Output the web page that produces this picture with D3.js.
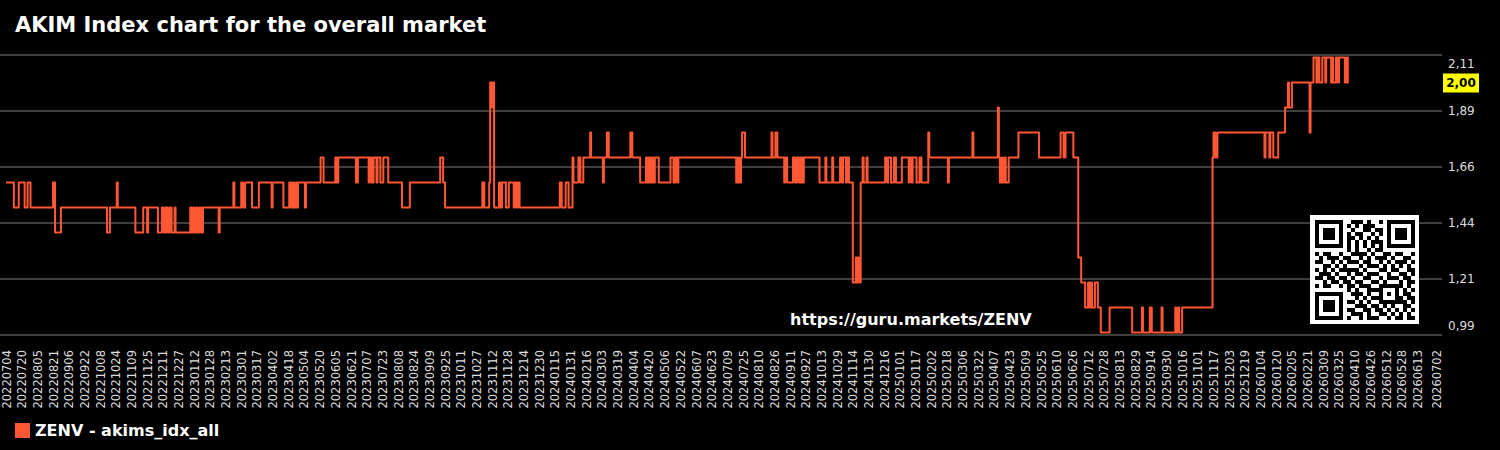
<!DOCTYPE html>
<html lang="en">
<head>
  <meta charset="utf-8">
  <title>AKIM Index chart for the overall market</title>
  <script src="https://cdn.jsdelivr.net/npm/d3@7"></script>
  <style>
    body { margin: 0; background: #000; }
    svg { display: block; font-family: "DejaVu Sans", sans-serif; }
  </style>
</head>
<body>
<div id="chart"></div>
<script>
  // step series: each value holds until the next change date
  var changeDates = [
    "20220704","20220712","20220717","20220723","20220726","20220729","20220821","20220823","20220829","20221015",
    "20221018","20221025","20221026","20221113","20221121","20221125","20221126","20221206","20221210","20221212",
    "20221214","20221216","20221218","20221220","20221223","20221224","20230108","20230109","20230111","20230112",
    "20230114","20230115","20230117","20230119","20230121","20230206","20230207","20230221","20230222","20230301",
    "20230303","20230305","20230312","20230319","20230401","20230402","20230413","20230419","20230421","20230423",
    "20230424","20230426","20230427","20230428","20230505","20230506","20230521","20230524","20230605","20230606",
    "20230608","20230626","20230628","20230709","20230710","20230712","20230714","20230717","20230718","20230721",
    "20230724","20230729","20230812","20230820","20230920","20230923","20230925","20231102","20231104","20231109",
    "20231110","20231112","20231113","20231114","20231119","20231120","20231122","20231126","20231129","20231204",
    "20231205","20231207","20231208","20231210","20240120","20240122","20240126","20240129","20240202","20240203",
    "20240208","20240210","20240213","20240220","20240221","20240304","20240305","20240308","20240310","20240401",
    "20240403","20240411","20240417","20240418","20240420","20240421","20240423","20240424","20240426","20240430",
    "20240512","20240515","20240517","20240519","20240520","20240718","20240720","20240721","20240723","20240724",
    "20240727","20240823","20240824","20240827","20240829","20240905","20240906","20240908","20240914","20240916",
    "20240918","20240920","20240922","20240923","20240925","20241011","20241017","20241018","20241024","20241025",
    "20241101","20241103","20241104","20241107","20241108","20241110","20241114","20241117","20241118","20241119",
    "20241121","20241122","20241124","20241125","20241128","20241129","20241217","20241219","20241220","20241223",
    "20241226","20241228","20250103","20250110","20250111","20250113","20250114","20250118","20250121","20250123",
    "20250130","20250131","20250219","20250220","20250316","20250317","20250411","20250412","20250413","20250415",
    "20250416","20250418","20250419","20250422","20250502","20250523","20250614","20250617","20250619","20250627",
    "20250702","20250705","20250709","20250712","20250713","20250715","20250716","20250719","20250722","20250725",
    "20250803","20250826","20250905","20250906","20250913","20250915","20250925","20250926","20251009","20251010",
    "20251012","20251013","20251016","20251116","20251117","20251119","20251121","20260108","20260109","20260113",
    "20260114","20260117","20260122","20260129","20260201","20260202","20260205","20260223","20260224","20260227",
    "20260302","20260303","20260305","20260308","20260311","20260312","20260317","20260318","20260319","20260322",
    "20260324","20260325","20260331","20260402","20260403","20260404"
  ];
  var changeValues = [
    1.6,1.5,1.6,1.5,1.6,1.5,1.6,1.4,1.5,1.4,
    1.5,1.6,1.5,1.4,1.5,1.4,1.5,1.4,1.5,1.4,
    1.5,1.4,1.5,1.4,1.5,1.4,1.5,1.4,1.5,1.4,
    1.5,1.4,1.5,1.4,1.5,1.4,1.5,1.6,1.5,1.6,
    1.5,1.6,1.5,1.6,1.5,1.6,1.5,1.6,1.5,1.6,
    1.5,1.6,1.5,1.6,1.5,1.6,1.7,1.6,1.7,1.6,
    1.7,1.6,1.7,1.6,1.7,1.6,1.7,1.6,1.7,1.6,
    1.7,1.6,1.5,1.6,1.7,1.6,1.5,1.6,1.5,1.6,
    2.0,1.9,2.0,1.5,1.6,1.5,1.6,1.5,1.6,1.5,
    1.6,1.5,1.6,1.5,1.6,1.5,1.6,1.5,1.7,1.6,
    1.7,1.6,1.7,1.8,1.7,1.6,1.7,1.8,1.7,1.8,
    1.7,1.6,1.7,1.6,1.7,1.6,1.7,1.6,1.7,1.6,
    1.7,1.6,1.7,1.6,1.7,1.6,1.7,1.6,1.7,1.8,
    1.7,1.8,1.7,1.8,1.7,1.6,1.7,1.6,1.7,1.6,
    1.7,1.6,1.7,1.6,1.7,1.6,1.7,1.6,1.7,1.6,
    1.7,1.6,1.7,1.6,1.7,1.6,1.2,1.3,1.2,1.3,
    1.2,1.6,1.7,1.6,1.7,1.6,1.7,1.6,1.7,1.6,
    1.7,1.6,1.7,1.6,1.7,1.6,1.7,1.6,1.7,1.6,
    1.8,1.7,1.6,1.7,1.8,1.7,1.9,1.7,1.6,1.7,
    1.6,1.7,1.6,1.7,1.8,1.7,1.8,1.7,1.8,1.7,
    1.3,1.2,1.1,1.2,1.1,1.2,1.1,1.2,1.1,1.0,
    1.1,1.0,1.1,1.0,1.1,1.0,1.1,1.0,1.1,1.0,
    1.1,1.0,1.1,1.7,1.8,1.7,1.8,1.7,1.8,1.7,
    1.8,1.7,1.8,1.9,2.0,1.9,2.0,1.8,2.0,2.1,
    2.0,2.1,2.0,2.1,2.0,2.1,2.0,2.1,2.0,2.1,
    2.0,2.1,2.0,2.1,2.0,2.0
  ];
  var seriesName = "ZENV - akims_idx_all";
  var lastValue = 2.00;
  var yTicks = [0.99, 1.214, 1.438, 1.662, 1.886, 2.11];
  var xFirstTick = "20220704", xLastTick = "20260702", xTickStepDays = 16;

  // decorative QR code bitmap (function patterns are drawn over it)
  var qrRows = [
    "10110 01101 11010 01011 10010", "01101 10010 10111 00101 01101", "11010 01101 00110 11010 10011",
    "00111 01010 11001 01101 11010", "10100 11011 01010 10110 00101", "01011 00110 10101 11001 01110",
    "11100 10101 01011 00110 10100", "00101 11010 10010 11011 01011", "10110 01001 11101 00110 11001",
    "01011 10110 01010 11101 00110", "11001 01011 10110 01010 11101", "00110 11100 01011 10101 01010",
    "10101 00111 10100 01101 10011", "01110 10010 11011 10010 01101", "11011 01101 00110 01011 10110",
    "00101 10110 11001 10100 01011", "10110 01011 01110 01011 11010", "01001 11010 10011 10110 00101",
    "11010 00101 11010 01101 10110", "00111 01100 10101 11010 01011", "10100 11011 01010 00110 11101",
    "01011 10100 11101 10101 00110", "11101 01011 00110 11010 10101", "00110 10101 11010 01101 01010",
    "10011 01110 01011 10010 11011"
  ];

  var W = 1500, H = 450;
  var lineColor = "#ff5733";
  var parse = d3.utcParse("%Y%m%d");
  var fmtDate = d3.utcFormat("%Y%m%d");
  var fmtNum = function (v) { return v.toFixed(2).replace(".", ","); };

  var data = changeDates.map(function (d, i) { return { date: parse(d), value: changeValues[i] }; });

  var svg = d3.select("#chart").append("svg").attr("width", W).attr("height", H);
  svg.append("rect").attr("width", W).attr("height", H).attr("fill", "#000");

  var x = d3.scaleUtc().domain([parse(xFirstTick), parse(xLastTick)]).range([6, 1436]);
  var y = d3.scaleLinear().domain([0.99, 2.11]).range([335, 55]);

  // title
  svg.append("text").attr("x", 15).attr("y", 32)
    .attr("fill", "#fff").attr("font-size", 21).attr("font-weight", "bold")
    .text("AKIM Index chart for the overall market");

  // horizontal grid + right labels
  var grid = svg.append("g");
  grid.selectAll("line").data(yTicks).enter().append("line")
    .attr("x1", 0).attr("x2", 1442)
    .attr("y1", function (d) { return y(d); }).attr("y2", function (d) { return y(d); })
    .attr("stroke", "#555").attr("stroke-width", 1.5);
  grid.selectAll("text").data(yTicks).enter().append("text")
    .attr("x", 1448)
    .attr("y", function (d, i) {
      if (i === yTicks.length - 1) return y(d) + 9;
      if (i === 0) return y(d) - 9;
      return y(d);
    })
    .attr("dy", "0.35em")
    .attr("fill", "#ddd").attr("font-size", 12)
    .text(function (d) { return fmtNum(d); });

  // x axis with rotated date labels (every 16 days, plus the range end)
  var endDate = parse(xLastTick);
  var xTicks = d3.utcDay.range(parse(xFirstTick), endDate, xTickStepDays)
    .filter(function (d) { return d3.utcDay.count(d, endDate) >= xTickStepDays / 2; });
  xTicks.push(endDate);
  var xAxis = svg.append("g").attr("transform", "translate(0,335)")
    .call(d3.axisBottom(x).tickValues(xTicks).tickFormat(fmtDate).tickSize(0));
  xAxis.select(".domain").remove();
  xAxis.selectAll("text")
    .attr("transform", "rotate(-90)")
    .attr("x", -15).attr("y", 0).attr("dy", "0.35em")
    .attr("text-anchor", "end")
    .attr("fill", "#ddd").attr("font-size", 11.5)
    .attr("font-family", "DejaVu Sans, sans-serif");

  // series line
  var line = d3.line().curve(d3.curveStepAfter)
    .x(function (d) { return x(d.date); })
    .y(function (d) { return y(d.value); });
  svg.append("path").datum(data).attr("d", line)
    .attr("fill", "none").attr("stroke", lineColor).attr("stroke-width", 2)
    .attr("stroke-linejoin", "round");

  // current value badge
  var lastY = y(lastValue);
  svg.append("rect").attr("x", 1443).attr("y", lastY - 9).attr("width", 36).attr("height", 19)
    .attr("fill", "#ffff00");
  svg.append("text").attr("x", 1461).attr("y", lastY + 0.5).attr("dy", "0.35em")
    .attr("text-anchor", "middle").attr("font-size", 12).attr("font-weight", "bold")
    .attr("fill", "#000").text(fmtNum(lastValue));

  // watermark url
  svg.append("text").attr("x", 790).attr("y", 325)
    .attr("fill", "#fff").attr("font-size", 16).attr("font-weight", "bold")
    .text("https://guru.markets/ZENV");

  // QR code
  var n = 25, mod = 4, qx = 1310, qy = 215, pad = 4.5;
  var cells = qrRows.map(function (r) { return r.replace(/ /g, "").split("").map(Number); });
  function setCell(r, c, v) { if (r >= 0 && r < n && c >= 0 && c < n) cells[r][c] = v; }
  [[0, 0], [0, n - 7], [n - 7, 0]].forEach(function (p) {
    for (var r = -1; r <= 7; r++) for (var c = -1; c <= 7; c++) {
      var ring = Math.max(Math.abs(r - 3), Math.abs(c - 3));
      setCell(p[0] + r, p[1] + c, (ring === 3 || ring <= 1) ? 1 : 0);
    }
  });
  for (var i = 8; i < n - 8; i++) { cells[6][i] = i % 2 === 0 ? 1 : 0; cells[i][6] = i % 2 === 0 ? 1 : 0; }
  for (var r = -2; r <= 2; r++) for (var c = -2; c <= 2; c++) {
    var ring = Math.max(Math.abs(r), Math.abs(c));
    cells[18 + r][18 + c] = (ring === 2 || ring === 0) ? 1 : 0;
  }
  var qr = svg.append("g");
  qr.append("rect").attr("x", qx).attr("y", qy).attr("width", n * mod + 2 * pad).attr("height", n * mod + 2 * pad)
    .attr("fill", "#fff");
  var flat = [];
  cells.forEach(function (row, r) { row.forEach(function (v, c) { if (v) flat.push([r, c]); }); });
  qr.selectAll("rect.m").data(flat).enter().append("rect").attr("class", "m")
    .attr("x", function (d) { return qx + pad + d[1] * mod; })
    .attr("y", function (d) { return qy + pad + d[0] * mod; })
    .attr("width", mod).attr("height", mod).attr("fill", "#000")
    .attr("shape-rendering", "crispEdges");

  // legend
  svg.append("rect").attr("x", 15).attr("y", 423).attr("width", 15).attr("height", 15).attr("fill", lineColor);
  svg.append("text").attr("x", 35).attr("y", 436)
    .attr("fill", "#fff").attr("font-size", 16).attr("font-weight", "bold")
    .text(seriesName);
</script>
</body>
</html>
